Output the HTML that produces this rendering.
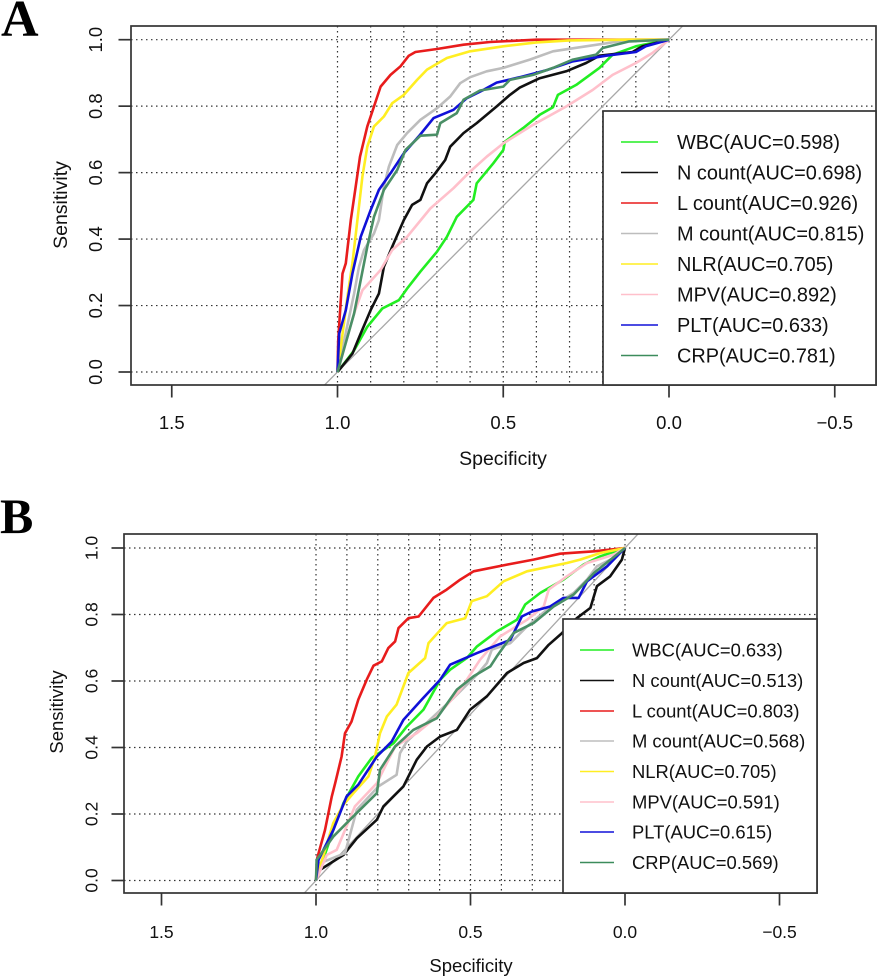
<!DOCTYPE html>
<html lang="en">
<head>
<meta charset="utf-8">
<title>ROC curves, panels A and B</title>
<style>
html,body{margin:0;padding:0;background:#fff;}
svg{display:block;font-family:"Liberation Sans",Arial,sans-serif;fill:#111;filter:blur(0.35px);}
.frame{fill:none;stroke:#333;stroke-width:1.7;}
.legend-box{fill:#fff;stroke:#333;stroke-width:1.7;}
.grid{stroke:#333;stroke-width:1.2;stroke-dasharray:1.5 3.5;}
.tick{stroke:#333;stroke-width:1.7;}
.lg{stroke-width:1.4;}
</style>
</head>
<body>
<svg id="figure" width="878" height="979" viewBox="0 0 878 979" xmlns="http://www.w3.org/2000/svg">
  <defs>
    <clipPath id="clip-a"><rect x="131" y="26" width="745" height="359"/></clipPath>
    <clipPath id="clip-b"><rect x="124" y="534" width="693" height="359"/></clipPath>
  </defs>
  <rect width="878" height="979" fill="#fff"/>

  <text x="1" y="36" style="font-family:'Liberation Serif',serif;font-weight:bold;font-size:52px" fill="#000">A</text>
  <text x="0" y="533" style="font-family:'Liberation Serif',serif;font-weight:bold;font-size:50px" fill="#000">B</text>

  <g id="panel-a">
    <g id="a-grid"></g>
    <g id="a-marks" clip-path="url(#clip-a)"></g>
    <g id="a-axes"></g>
    <rect class="frame" x="131" y="26" width="745" height="359"/>
    <text x="503" y="465" text-anchor="middle" font-size="19.5">Specificity</text>
    <text transform="translate(67,205) rotate(-90)" text-anchor="middle" font-size="19.5">Sensitivity</text>
    <g>
      <rect class="legend-box" x="603" y="111" width="273" height="274"/>
      <g font-size="19.9">
        <g><line class="lg" x1="621" x2="658" y1="142" y2="142" stroke="#22ee22"/><text x="677" y="149">WBC(AUC=0.598)</text></g>
        <g><line class="lg" x1="621" x2="658" y1="172.5" y2="172.5" stroke="#111"/><text x="677" y="179.5">N count(AUC=0.698)</text></g>
        <g><line class="lg" x1="621" x2="658" y1="203" y2="203" stroke="#e81c1c"/><text x="677" y="210">L count(AUC=0.926)</text></g>
        <g><line class="lg" x1="621" x2="658" y1="233.5" y2="233.5" stroke="#bdbdbd"/><text x="677" y="240.5">M count(AUC=0.815)</text></g>
        <g><line class="lg" x1="621" x2="658" y1="264" y2="264" stroke="#ffee22"/><text x="677" y="271">NLR(AUC=0.705)</text></g>
        <g><line class="lg" x1="621" x2="658" y1="294.5" y2="294.5" stroke="#ffc0cb"/><text x="677" y="301.5">MPV(AUC=0.892)</text></g>
        <g><line class="lg" x1="621" x2="658" y1="325" y2="325" stroke="#1010d8"/><text x="677" y="332">PLT(AUC=0.633)</text></g>
        <g><line class="lg" x1="621" x2="658" y1="355.5" y2="355.5" stroke="#3c8c5c"/><text x="677" y="362.5">CRP(AUC=0.781)</text></g>
      </g>
    </g>
  </g>

  <g id="panel-b">
    <g id="b-grid"></g>
    <g id="b-marks" clip-path="url(#clip-b)"></g>
    <g id="b-axes"></g>
    <rect class="frame" x="124" y="534" width="693" height="359"/>
    <text x="471" y="972" text-anchor="middle" font-size="18.5">Specificity</text>
    <text transform="translate(63,712) rotate(-90)" text-anchor="middle" font-size="18.5">Sensitivity</text>
    <g>
      <rect class="legend-box" x="563" y="619" width="254" height="274"/>
      <g font-size="18.4">
        <g><line class="lg" x1="580" x2="614" y1="650" y2="650" stroke="#22ee22"/><text x="632" y="656.5">WBC(AUC=0.633)</text></g>
        <g><line class="lg" x1="580" x2="614" y1="680.5" y2="680.5" stroke="#111"/><text x="632" y="687">N count(AUC=0.513)</text></g>
        <g><line class="lg" x1="580" x2="614" y1="711" y2="711" stroke="#e81c1c"/><text x="632" y="717.5">L count(AUC=0.803)</text></g>
        <g><line class="lg" x1="580" x2="614" y1="741" y2="741" stroke="#bdbdbd"/><text x="632" y="747.5">M count(AUC=0.568)</text></g>
        <g><line class="lg" x1="580" x2="614" y1="771.5" y2="771.5" stroke="#ffee22"/><text x="632" y="778">NLR(AUC=0.705)</text></g>
        <g><line class="lg" x1="580" x2="614" y1="802" y2="802" stroke="#ffc0cb"/><text x="632" y="808.5">MPV(AUC=0.591)</text></g>
        <g><line class="lg" x1="580" x2="614" y1="832" y2="832" stroke="#1010d8"/><text x="632" y="838.5">PLT(AUC=0.615)</text></g>
        <g><line class="lg" x1="580" x2="614" y1="862.5" y2="862.5" stroke="#3c8c5c"/><text x="632" y="869">CRP(AUC=0.569)</text></g>
      </g>
    </g>
  </g>
</svg>

<script>
// Tick values and labels
const xTickValues = [1.5, 1.0, 0.5, 0.0, -0.5];
const xTickLabels = ["1.5", "1.0", "0.5", "0.0", "\u22120.5"];
const yTickValues = [0.0, 0.2, 0.4, 0.6, 0.8, 1.0];
const yTickLabels = ["0.0", "0.2", "0.4", "0.6", "0.8", "1.0"];
const gridSpecificity = [1.0, 0.9, 0.8, 0.7, 0.6, 0.5, 0.4, 0.3, 0.2, 0.1, 0.0];
const gridSensitivity = [0.0, 0.2, 0.4, 0.6, 0.8, 1.0];

// Series names and colours, in draw order
const seriesNames = ["wbc", "n-count", "l-count", "m-count", "nlr", "mpv", "plt", "crp"];
const seriesColors = ["#22ee22", "#111111", "#e81c1c", "#bdbdbd", "#ffee22", "#ffc0cb", "#1010d8", "#4a8f66"];

// Panel A: specificity and sensitivity
const aWbcSpec = [1, .95, .91, .865, .815, .79, .75, .70, .67, .64, .59, .58, .53, .50, .495, .44, .39, .35, .335, .28, .21, .17, .10, 0];
const aWbcSens = [0, .065, .136, .191, .216, .251, .302, .362, .407, .467, .518, .568, .628, .668, .693, .734, .774, .797, .834, .864, .915, .955, .98, 1];
const aNSpec = [1, .955, .93, .90, .875, .86, .835, .80, .775, .75, .73, .705, .675, .66, .62, .58, .52, .48, .45, .39, .31, .25, .21, .11, .08, 0];
const aNSens = [0, .055, .116, .186, .236, .317, .377, .457, .503, .518, .568, .598, .638, .678, .719, .749, .799, .834, .856, .884, .905, .93, .952, .963, .98, 1];
const aLSpec = [1, .998, .985, .975, .96, .945, .932, .91, .89, .87, .84, .81, .785, .765, .70, .62, .54, .40, 0];
const aLSens = [0, .095, .296, .327, .457, .558, .648, .739, .799, .859, .894, .92, .952, .963, .972, .985, .993, 1, 1];
const aMSpec = [1, .95, .935, .92, .89, .875, .86, .845, .82, .79, .75, .70, .66, .63, .60, .55, .50, .42, .35, .25, .15, 0];
const aMSens = [0, .236, .317, .367, .417, .457, .558, .618, .683, .719, .759, .794, .829, .869, .887, .905, .915, .94, .965, .98, .995, 1];
const aNlrSpec = [1, .97, .955, .94, .925, .91, .89, .86, .835, .80, .76, .73, .67, .60, .50, .40, .30, .12, 0];
const aNlrSens = [0, .226, .327, .457, .588, .678, .739, .769, .809, .834, .879, .91, .945, .965, .98, .992, .998, 1, 1];
const aMpvSpec = [1, .95, .925, .87, .835, .79, .72, .65, .60, .55, .50, .41, .31, .23, .17, .10, .05, 0];
const aMpvSens = [0, .176, .246, .307, .367, .407, .492, .553, .603, .648, .688, .744, .799, .849, .894, .93, .96, 1];
const aPltSpec = [1, .995, .975, .955, .93, .90, .875, .84, .80, .755, .71, .65, .61, .56, .52, .45, .37, .29, .19, .10, .07, 0];
const aPltSens = [0, .116, .186, .296, .407, .487, .548, .598, .658, .709, .764, .789, .824, .849, .871, .887, .908, .935, .952, .963, .98, 1];
const aCrpSpec = [1, .95, .91, .89, .86, .82, .795, .75, .70, .69, .64, .62, .57, .50, .48, .41, .35, .29, .22, .20, .12, 0];
const aCrpSens = [0, .176, .377, .467, .548, .608, .668, .711, .714, .749, .779, .819, .847, .859, .879, .894, .915, .94, .955, .975, .995, 1];

// Panel B: specificity and sensitivity
const bWbcSpec = [1, .944, .911, .863, .82, .749, .706, .652, .598, .566, .512, .479, .415, .35, .323, .274, .199, .134, .08, 0];
const bWbcSens = [0, .152, .233, .313, .368, .413, .463, .514, .604, .634, .669, .704, .749, .784, .83, .865, .905, .95, .975, 1];
const bNSpec = [1, .987, .911, .868, .803, .782, .717, .674, .641, .598, .544, .501, .447, .382, .328, .285, .247, .204, .156, .112, .091, .048, .01, 0];
const bNSens = [0, .032, .077, .127, .183, .223, .283, .363, .403, .433, .453, .514, .554, .624, .654, .669, .709, .744, .789, .82, .885, .915, .965, 1];
const bLSpec = [1, .996, .971, .949, .938, .917, .906, .885, .863, .836, .814, .787, .766, .744, .733, .701, .668, .62, .577, .533, .49, .382, .296, .21, .10, 0];
const bLSens = [0, .067, .152, .253, .293, .373, .443, .478, .544, .604, .646, .659, .699, .719, .759, .789, .794, .85, .875, .905, .93, .95, .965, .983, .99, 1];
const bMSpec = [1, .987, .906, .868, .798, .739, .728, .706, .62, .555, .479, .447, .431, .371, .317, .253, .166, .123, .091, .037, 0];
const bMSens = [0, .052, .082, .213, .283, .318, .383, .418, .493, .549, .619, .654, .694, .714, .764, .814, .865, .905, .945, .97, 1];
const bNlrSpec = [1, .971, .944, .911, .879, .83, .809, .793, .771, .739, .701, .647, .636, .577, .517, .496, .447, .393, .317, .188, .145, .08, 0];
const bNlrSens = [0, .092, .173, .228, .263, .313, .373, .443, .493, .529, .624, .669, .714, .774, .789, .84, .855, .9, .93, .955, .965, .985, 1];
const bMpvSpec = [1, .965, .933, .874, .803, .771, .744, .674, .609, .533, .469, .404, .317, .263, .247, .188, .123, .037, 0];
const bMpvSens = [0, .077, .092, .223, .293, .353, .403, .443, .493, .574, .664, .734, .784, .824, .875, .915, .955, .98, 1];
const bPltSpec = [1, .992, .944, .901, .863, .803, .755, .717, .658, .598, .566, .479, .371, .334, .301, .242, .199, .15, .123, .058, 0];
const bPltSens = [0, .062, .152, .253, .288, .373, .418, .483, .544, .604, .649, .684, .724, .794, .809, .824, .85, .85, .9, .945, 1];
const bCrpSpec = [1, .998, .944, .89, .803, .793, .744, .685, .609, .544, .49, .436, .415, .361, .296, .231, .166, .10, 0];
const bCrpSens = [0, .062, .132, .183, .263, .333, .403, .453, .488, .574, .614, .644, .674, .744, .774, .824, .86, .925, 1];

const NS = "http://www.w3.org/2000/svg";

function makeAxes(x1, x0, y1, y0) {
  return {
    x: function (v) { return x0 + (x1 - x0) * v; },
    y: function (v) { return y0 + (y1 - y0) * v; }
  };
}

function drawPanel(prefix, cfg, specs, sens) {
  const scale = makeAxes(cfg.x1, cfg.x0, cfg.y1, cfg.y0);
  const gridG = document.getElementById(prefix + "-grid");
  const marksG = document.getElementById(prefix + "-marks");
  const axesG = document.getElementById(prefix + "-axes");

  gridSpecificity.forEach(function (v) {
    const l = document.createElementNS(NS, "line");
    
    
    l.setAttribute("class", "grid");
    l.setAttribute("x1", scale.x(v));
    l.setAttribute("x2", scale.x(v));
    l.setAttribute("y1", cfg.top);
    l.setAttribute("y2", cfg.bottom);
    gridG.appendChild(l);
  });
  gridSensitivity.forEach(function (v) {
    const l = document.createElementNS(NS, "line");
    
    
    l.setAttribute("class", "grid");
    l.setAttribute("x1", cfg.left);
    l.setAttribute("x2", cfg.right);
    l.setAttribute("y1", scale.y(v));
    l.setAttribute("y2", scale.y(v));
    gridG.appendChild(l);
  });

  const diag = document.createElementNS(NS, "line");
  
  
  diag.setAttribute("x1", scale.x(1.2));
  diag.setAttribute("y1", scale.y(-0.2));
  diag.setAttribute("x2", scale.x(-0.2));
  diag.setAttribute("y2", scale.y(1.2));
  diag.setAttribute("stroke", "#a8a8a8");
  diag.setAttribute("stroke-width", "1.3");
  marksG.appendChild(diag);

  seriesNames.forEach(function (name, i) {
    const pts = specs[i].map(function (s, j) {
      return scale.x(s).toFixed(1) + "," + scale.y(sens[i][j]).toFixed(1);
    }).join(" ");
    const line = document.createElementNS(NS, "polyline");
    
    
    line.setAttribute("points", pts);
    line.setAttribute("fill", "none");
    line.setAttribute("stroke", seriesColors[i]);
    line.setAttribute("stroke-width", "2.6");
    line.setAttribute("stroke-linejoin", "round");
    marksG.appendChild(line);
  });

  xTickValues.forEach(function (v, i) {
    const t = document.createElementNS(NS, "line");
    
    
    t.setAttribute("class", "tick");
    t.setAttribute("x1", scale.x(v));
    t.setAttribute("x2", scale.x(v));
    t.setAttribute("y1", cfg.bottom);
    t.setAttribute("y2", cfg.bottom + 12.5);
    axesG.appendChild(t);
    const lab = document.createElementNS(NS, "text");
    
    
    lab.setAttribute("x", scale.x(v));
    lab.setAttribute("y", cfg.xLabelY);
    lab.setAttribute("text-anchor", "middle");
    lab.setAttribute("font-size", cfg.tickFont);
    lab.textContent = xTickLabels[i];
    axesG.appendChild(lab);
  });

  yTickValues.forEach(function (v, i) {
    const t = document.createElementNS(NS, "line");
    
    
    t.setAttribute("class", "tick");
    t.setAttribute("x1", cfg.left - 12.5);
    t.setAttribute("x2", cfg.left);
    t.setAttribute("y1", scale.y(v));
    t.setAttribute("y2", scale.y(v));
    axesG.appendChild(t);
    const lab = document.createElementNS(NS, "text");
    
    
    lab.setAttribute("transform", "translate(" + cfg.yLabelX + "," + scale.y(v) + ") rotate(-90)");
    lab.setAttribute("text-anchor", "middle");
    lab.setAttribute("font-size", cfg.tickFont);
    lab.textContent = yTickLabels[i];
    axesG.appendChild(lab);
  });
}

drawPanel("a",
  { x1: 337.5, x0: 669, y1: 39.7, y0: 372, left: 131, right: 876, top: 26, bottom: 385, xLabelY: 429, yLabelX: 102, tickFont: 18.5 },
  [aWbcSpec, aNSpec, aLSpec, aMSpec, aNlrSpec, aMpvSpec, aPltSpec, aCrpSpec],
  [aWbcSens, aNSens, aLSens, aMSens, aNlrSens, aMpvSens, aPltSens, aCrpSens]);

drawPanel("b",
  { x1: 316, x0: 625, y1: 548, y0: 880.5, left: 124, right: 817, top: 534, bottom: 893, xLabelY: 938, yLabelX: 97.5, tickFont: 17.5 },
  [bWbcSpec, bNSpec, bLSpec, bMSpec, bNlrSpec, bMpvSpec, bPltSpec, bCrpSpec],
  [bWbcSens, bNSens, bLSens, bMSens, bNlrSens, bMpvSens, bPltSens, bCrpSens]);
</script>
</body>
</html>
